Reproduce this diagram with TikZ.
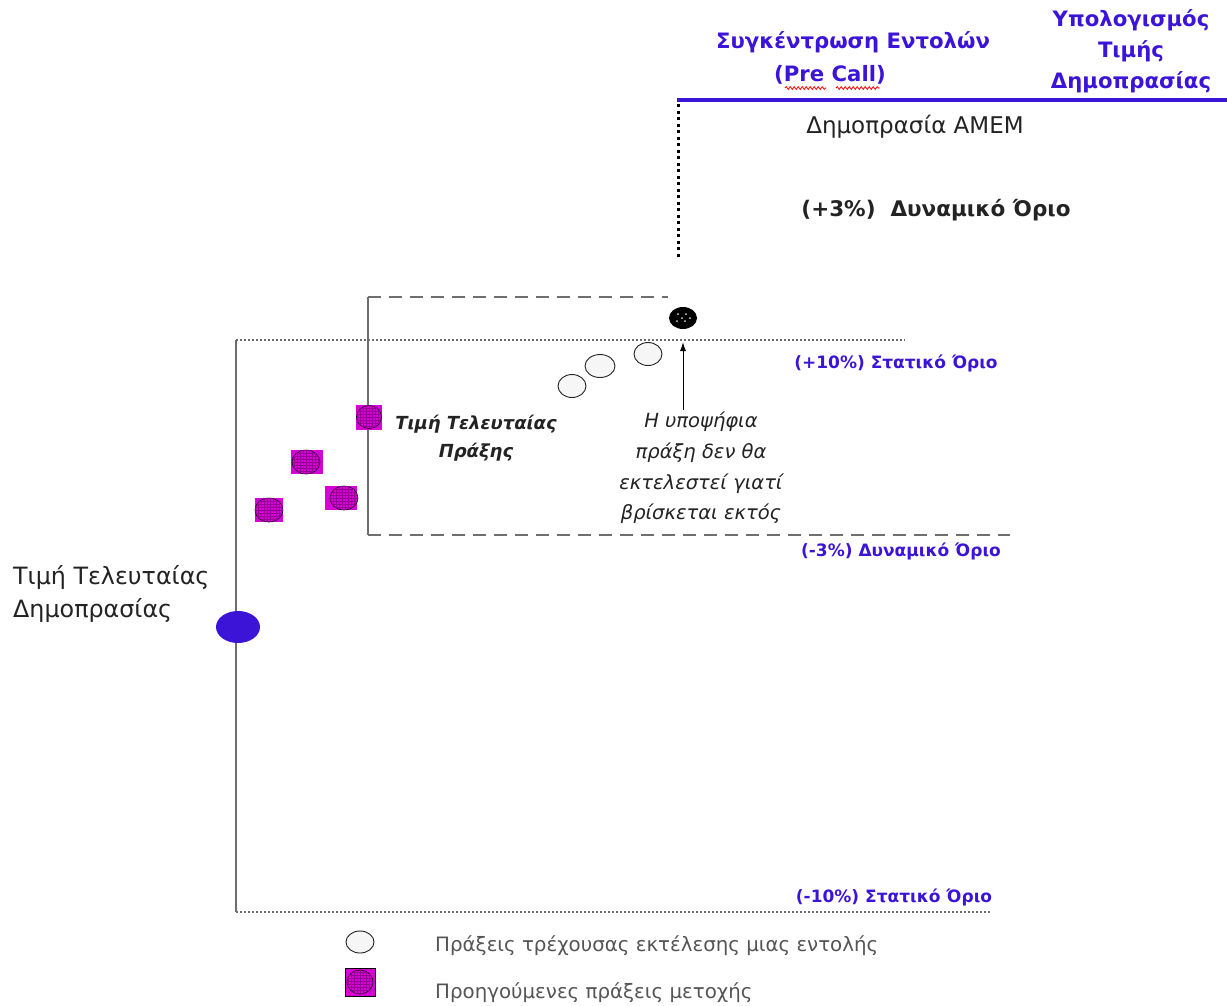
\documentclass[tikz,border=0pt]{standalone}
\usepackage{fontspec}
\setmainfont{DejaVu Sans}
\usetikzlibrary{patterns,decorations.pathmorphing,arrows.meta,shapes.geometric,calc}
\definecolor{hblue}{RGB}{60,20,215}
\definecolor{mag}{RGB}{215,0,215}
\definecolor{darkmag}{RGB}{150,0,150}
\definecolor{txtdark}{RGB}{35,35,35}
\definecolor{txtgray}{RGB}{85,85,85}
\definecolor{linegray}{RGB}{110,110,110}
\definecolor{wfill}{RGB}{246,246,246}
\tikzset{
  hdr/.style={font=\fontsize{21.2}{33}\selectfont\bfseries, text=hblue, inner sep=0pt},
  lim/.style={font=\fontsize{17}{20}\selectfont\bfseries, text=hblue, inner sep=0pt},
  leg/.style={font=\fontsize{19.8}{22}\selectfont, text=txtgray, inner sep=0pt, anchor=west},
  magsq/.style={draw=none, fill=mag, inner sep=0pt},
  magci/.style={ellipse, draw=black, line width=0.6pt, fill=mag, inner sep=0pt},
  whci/.style={ellipse, draw=txtdark, line width=0.9pt, fill=wfill, inner sep=0pt, minimum width=28pt, minimum height=23pt},
  solidv/.style={draw=linegray, line width=1.4pt},
  statl/.style={draw=linegray, line width=1.2pt, dash pattern=on 2pt off 2pt},
  dynl/.style={draw=linegray, line width=1.2pt, dash pattern=on 13pt off 8pt},
}
\begin{document}
\begin{tikzpicture}[x=1pt,y=-1pt]
\useasboundingbox (0,0) rectangle (1227,1005);

% header
\coordinate (hl) at (677,100);
\coordinate (hr) at (1227,100);
\draw[hblue, line width=4pt] (hl) -- (hr);
\node[hdr] (h1a) at (853,42) {Συγκέντρωση Εντολών};
\node[hdr] (h1b) at (830,75) {(Pre Call)};
\coordinate (w1a) at (785,88); \coordinate (w1b) at (826,88);
\coordinate (w2a) at (836,88); \coordinate (w2b) at (880,88);
\draw[red, line width=0.8pt, decorate, decoration={snake, amplitude=1.4pt, segment length=4pt}] (w1a) -- (w1b);
\draw[red, line width=0.8pt, decorate, decoration={snake, amplitude=1.4pt, segment length=4pt}] (w2a) -- (w2b);
\node[hdr, font=\fontsize{21.2}{31}\selectfont\bfseries, align=center] (h2) at (1131,51) {Υπολογισμός\\Τιμής\\Δημοπρασίας};

% dotted vertical
\coordinate (dv1) at (678,104);
\coordinate (dv2) at (678,260);
\draw[black, line width=3pt, dash pattern=on 3pt off 3.5pt] (dv1) -- (dv2);

\node[font=\fontsize{23}{26}\selectfont, text=txtdark, inner sep=0pt] (amem) at (915,127) {Δημοπρασία ΑΜΕΜ};
\node[font=\fontsize{21.5}{24}\selectfont\bfseries, text=txtdark, inner sep=0pt] (p3) at (936,210) {(+3\%)\ \ Δυναμικό Όριο};

% static band
\coordinate (s1) at (236,340); \coordinate (s2) at (905,340);
\coordinate (s3) at (236,912); \coordinate (s4) at (990,912);
\draw[statl] (s1) -- (s2);
\draw[statl] (s3) -- (s4);
\draw[solidv] (s1) -- (s3);

% dynamic band
\coordinate (d1) at (368,297); \coordinate (d2) at (668,297);
\coordinate (d3) at (368,535); \coordinate (d4) at (1010,535);
\draw[dynl] (d1) -- (d2);
\draw[dynl] (d3) -- (d4);
\draw[solidv] (d1) -- (d3);

% limit labels
\node[lim] (l10p) at (896,363) {(+10\%) Στατικό Όριο};
\node[lim] (l3m) at (901,551) {(-3\%) Δυναμικό Όριο};
\node[lim] (l10m) at (894,897) {(-10\%) Στατικό Όριο};

% last auction price
\node[ellipse, fill=hblue, minimum width=44pt, minimum height=32pt, inner sep=0pt] (lap) at (238,627) {};
\node[font=\fontsize{23.8}{33}\selectfont, text=txtdark, align=left, anchor=west, inner sep=0pt] (laptxt) at (13,593.5) {Τιμή Τελευταίας\\Δημοπρασίας};

% previous trades (magenta)
\node[magsq, minimum width=26pt, minimum height=25pt] (m1s) at (369,417) {};
\node[magci, minimum width=25pt, minimum height=23pt] (m1) at (369,417) {};
\path[pattern=grid, pattern color=darkmag] (m1.center) ellipse (12.5 and 11.5);
\node[magsq, minimum width=32pt, minimum height=24pt] (m2s) at (307,462) {};
\node[magci, minimum width=28pt, minimum height=24pt] (m2) at (306,462) {};
\path[pattern=grid, pattern color=darkmag] (m2.center) ellipse (14 and 12);
\node[magsq, minimum width=32pt, minimum height=24pt] (m3s) at (341,498) {};
\node[magci, minimum width=28pt, minimum height=24pt] (m3) at (344,498) {};
\path[pattern=grid, pattern color=darkmag] (m3.center) ellipse (14 and 12);
\node[magsq, minimum width=28pt, minimum height=24pt] (m4s) at (269,510) {};
\node[magci, minimum width=28pt, minimum height=24pt] (m4) at (269,510) {};
\path[pattern=grid, pattern color=darkmag] (m4.center) ellipse (14 and 12);

\node[font=\fontsize{18}{28}\selectfont\bfseries\itshape, text=txtdark, align=center, inner sep=0pt] (lastp) at (476,438) {Τιμή Τελευταίας\\Πράξης};

% current trades (white)
\node[whci] (c1) at (572,386) {};
\node[whci, minimum width=30pt] (c2) at (600,366) {};
\node[whci] (c3) at (648,354) {};

% candidate trade
\node[ellipse, fill=black, minimum width=28pt, minimum height=22pt, inner sep=0pt] (cand) at (683,318) {};
\foreach \dx/\dy in {-5/-4,3/-4,-6/3,2/3,7/0,-1/0}
  \fill[white!70!gray] ($(cand.center)+(\dx,\dy)$) circle (1);

\node[font=\fontsize{19.5}{30.7}\selectfont\itshape, text=txtdark, align=center, inner sep=0pt] (note) at (701,468) {Η υποψήφια\\πράξη δεν θα\\εκτελεστεί γιατί\\βρίσκεται εκτός};
\coordinate (arb) at (683,410);
\coordinate (art) at (683,342);
\draw[-{Latex[length=9pt,width=6pt]}, black, line width=1pt] (arb) -- (art);

% legend
\node[whci, minimum width=28pt, minimum height=22pt] (legw) at (360,942) {};
\node[leg] (legwt) at (435,946) {Πράξεις τρέχουσας εκτέλεσης μιας εντολής};
\node[magsq, draw=black, line width=1pt, minimum width=30pt, minimum height=28pt] (legms) at (360,982) {};
\node[magci, minimum width=26pt, minimum height=24pt] (legm) at (360,982) {};
\path[pattern=grid, pattern color=darkmag] (legm.center) ellipse (13 and 12);
\node[leg] (legmt) at (435,993) {Προηγούμενες πράξεις μετοχής};
\end{tikzpicture}
\end{document}
